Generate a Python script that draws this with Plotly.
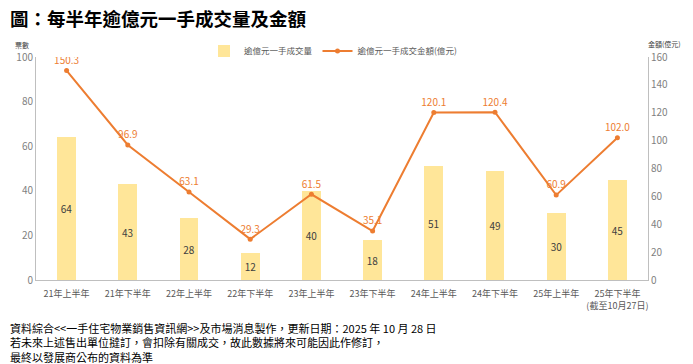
import plotly.graph_objects as go

categories = ["21年上半年", "21年下半年", "22年上半年", "22年下半年", "23年上半年",
              "23年下半年", "24年上半年", "24年下半年", "25年上半年", "25年下半年<br>(截至10月27日)"]
volumes = [64, 43, 28, 12, 40, 18, 51, 49, 30, 45]
amounts = [150.3, 96.9, 63.1, 29.3, 61.5, 35.1, 120.1, 120.4, 60.9, 102.0]

FONT = "Noto Sans CJK TC, Noto Sans, sans-serif"
x = list(range(len(categories)))

L, R, T, B = 36, 45, 57, 84
PW, PH = 693 - L - R, 364 - T - B

fig = go.Figure()
fig.add_trace(go.Bar(
    x=x, y=volumes, name="逾億元一手成交量", width=0.31,
    marker=dict(color="#FFE699", line=dict(width=0)),
    text=[str(v) for v in volumes], textposition="inside", insidetextanchor="middle",
    textfont=dict(color="#404040", size=10, family=FONT),
    yaxis="y",
))
fig.add_trace(go.Scatter(
    x=x, y=amounts, name="逾億元一手成交金額(億元)", mode="lines+markers+text",
    line=dict(color="#ED7D31", width=2), marker=dict(color="#ED7D31", size=5),
    text=[f"{v:.1f}" for v in amounts], textposition="top center",
    textfont=dict(color="#ED7D31", size=10, family=FONT),
    yaxis="y2",
))

fig.update_layout(
    width=693, height=364,
    margin=dict(l=L, r=R, t=T, b=B, autoexpand=False),
    paper_bgcolor="white", plot_bgcolor="white",
    font=dict(family=FONT, color="#595959"),
    showlegend=True,
    legend=dict(orientation="h", x=(204 - L) / PW, y=1 + 6 / PH, xanchor="left", yanchor="middle",
                font=dict(size=8.5, color="#595959"), bgcolor="rgba(0,0,0,0)"),
    xaxis=dict(tickmode="array", tickvals=x, ticktext=categories, range=[-0.5, 9.5],
               showline=True, linecolor="#BFBFBF", linewidth=1, ticks="", automargin=False,
               ticklabelstandoff=5,
               tickfont=dict(size=9, color="#595959"), showgrid=False, zeroline=False),
    yaxis=dict(range=[0, 100], dtick=20, showline=True, linecolor="#BFBFBF", linewidth=1,
               showgrid=False, zeroline=False, ticks="", automargin=False,
               tickfont=dict(size=10, color="#7F7F7F")),
    yaxis2=dict(range=[0, 160], dtick=20, overlaying="y", side="right", showline=True,
                linecolor="#BFBFBF", linewidth=1, showgrid=False, zeroline=False, ticks="",
                automargin=False, tickfont=dict(size=10, color="#7F7F7F")),
    bargap=0,
)

fig.add_annotation(text="<b>圖：每半年逾億元一手成交量及金額</b>", xref="paper", yref="paper",
                   x=(8 - L) / PW, y=1 + 39 / PH, xanchor="left", yanchor="middle", showarrow=False,
                   font=dict(size=18.5, color="#000000", family=FONT))
fig.add_annotation(text="票數", xref="paper", yref="paper", x=(22 - L) / PW, y=1 + 12 / PH,
                   xanchor="center", yanchor="middle", showarrow=False,
                   font=dict(size=7, color="#404040"))
fig.add_annotation(text="金額(億元)", xref="paper", yref="paper", x=1 + 17 / PW, y=1 + 13 / PH,
                   xanchor="center", yanchor="middle", showarrow=False,
                   font=dict(size=7, color="#404040"))
footer = ["資料綜合<<一手住宅物業銷售資訊網>>及市場消息製作，更新日期：2025 年 10 月 28 日",
          "若未來上述售出單位撻訂，會扣除有關成交，故此數據將來可能因此作修訂，",
          "最終以發展商公布的資料為準"]
fig.add_annotation(text="<br>".join(footer), xref="paper", yref="paper", x=(8 - L) / PW,
                   y=-(318 - (364 - B)) / PH, xanchor="left", yanchor="top", align="left",
                   showarrow=False, font=dict(size=11, color="#000000"))

fig.write_html("out.html", config={"displayModeBar": False},
               post_script="document.body.style.margin='0';document.body.style.overflow='hidden';")
